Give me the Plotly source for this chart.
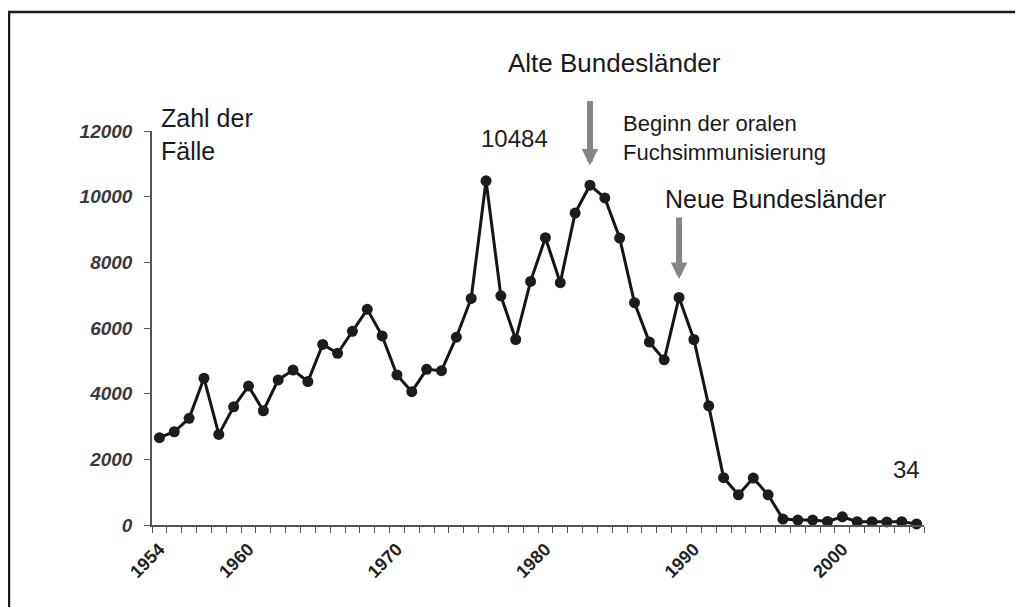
import plotly.graph_objects as go

# ---------------- data ----------------
years = list(range(1954, 2006))
cases = [2660, 2840, 3250, 4470, 2760, 3600, 4230, 3480, 4420, 4720,
         4370, 5500, 5230, 5900, 6570, 5760, 4570, 4060, 4740, 4700,
         5720, 6900, 10484, 6980, 5650, 7420, 8750, 7380, 9500, 10350,
         9960, 8740, 6770, 5570, 5030, 6930, 5650, 3630, 1440, 920,
         1430, 920, 180, 150, 150, 110, 250, 100, 100, 95,
         100, 34]
tick_years = [1954, 1960, 1970, 1980, 1990, 2000]
y_ticks = [0, 2000, 4000, 6000, 8000, 10000, 12000]
peak_year = 1976
alte_year = 1983
neue_year = 1989

# ---------------- layout helpers ----------------
OFF = 8                      # page body margin of the html page
W, H = 1015, 599
L, R, T, B = 144, 99, 123, 82
PW, PH = W - L - R, H - T - B


def pxx(x):
    """reference-pixel x -> paper fraction"""
    return (x - OFF - L) / PW


def pxy(y):
    """reference-pixel y -> paper fraction"""
    return (H - B - (y - OFF)) / PH


FONT = "Liberation Sans, Arial, sans-serif"
ARROW_C = "#858585"

fig = go.Figure()
fig.add_trace(go.Scatter(
    x=years, y=cases, mode="lines+markers",
    line=dict(color="#151515", width=3),
    marker=dict(size=11, color="#1c1c1c", line=dict(width=0)),
    cliponaxis=False, showlegend=False,
))

peak_val = cases[years.index(peak_year)]
last_val = cases[-1]
alte_val = cases[years.index(alte_year)]
neue_val = cases[years.index(neue_year)]

annotations = [
    dict(x=peak_year, y=peak_val, xref="x", yref="y", text=str(peak_val),
         showarrow=False, xanchor="left", yanchor="middle", xshift=-7, yshift=42,
         font=dict(family=FONT, size=24, color="#222")),
    dict(x=years[-1], y=last_val, xref="x", yref="y", text=str(last_val),
         showarrow=False, xanchor="center", yanchor="middle", xshift=-10, yshift=54,
         font=dict(family=FONT, size=24, color="#222")),
    dict(x=alte_year, y=alte_val + 600, xref="x", yref="y", text="",
         showarrow=True, ax=0, ay=-66, arrowhead=2, arrowsize=0.55,
         arrowwidth=6, arrowcolor=ARROW_C),
    dict(x=neue_year, y=neue_val + 560, xref="x", yref="y", text="",
         showarrow=True, ax=0, ay=-63, arrowhead=2, arrowsize=0.55,
         arrowwidth=6, arrowcolor=ARROW_C),
    dict(x=pxx(614), y=pxy(63), xref="paper", yref="paper",
         text="Alte Bundesländer", showarrow=False,
         xanchor="center", yanchor="middle",
         font=dict(family=FONT, size=26, color="#1a1a1a")),
    dict(x=pxx(775), y=pxy(199), xref="paper", yref="paper",
         text="Neue Bundesländer", showarrow=False,
         xanchor="center", yanchor="middle",
         font=dict(family=FONT, size=25, color="#1a1a1a")),
    dict(x=pxx(621), y=pxy(109), xref="paper", yref="paper",
         text="Beginn der oralen<br>Fuchsimmunisierung", showarrow=False,
         xanchor="left", yanchor="top", align="left",
         font=dict(family=FONT, size=22, color="#1a1a1a")),
    dict(x=pxx(159), y=pxy(102), xref="paper", yref="paper",
         text="Zahl der<br>Fälle", showarrow=False,
         xanchor="left", yanchor="top", align="left",
         font=dict(family=FONT, size=25, color="#1a1a1a")),
]

shapes = [
    dict(type="rect", xref="paper", yref="paper",
         x0=pxx(9), x1=pxx(1020), y0=pxy(630), y1=pxy(12),
         line=dict(color="#1a1a1a", width=2.5), fillcolor="rgba(0,0,0,0)"),
]

fig.update_layout(
    width=W, height=H,
    margin=dict(l=L, r=R, t=T, b=B, autoexpand=False),
    paper_bgcolor="white", plot_bgcolor="white",
    annotations=annotations, shapes=shapes,
    xaxis=dict(
        range=[1953.5, 2005.5], tickmode="array", tickvals=tick_years,
        ticktext=[str(y) for y in tick_years], tickangle=-45, ticks="",
        showline=True, linecolor="#555", linewidth=1.5,
        showgrid=False, zeroline=False, ticklabelstandoff=5,
        tickfont=dict(family=FONT, size=18, color="#222", weight="bold"),
        minor=dict(tickmode="linear", tick0=1953.5, dtick=1, ticks="outside",
                   ticklen=6, tickwidth=1.3, tickcolor="#555", showgrid=False),
    ),
    yaxis=dict(
        range=[0, 12000], tickmode="array", tickvals=y_ticks,
        ticktext=[str(v) for v in y_ticks], ticks="outside", ticklen=6,
        tickwidth=1.3, tickcolor="#555", showline=True, linecolor="#555",
        linewidth=1.5, showgrid=False, zeroline=False, ticklabelstandoff=8,
        tickfont=dict(family=FONT, size=19, color="#3a3a3a",
                      weight="bold", style="italic"),
    ),
)

fig.write_html("out.html")
